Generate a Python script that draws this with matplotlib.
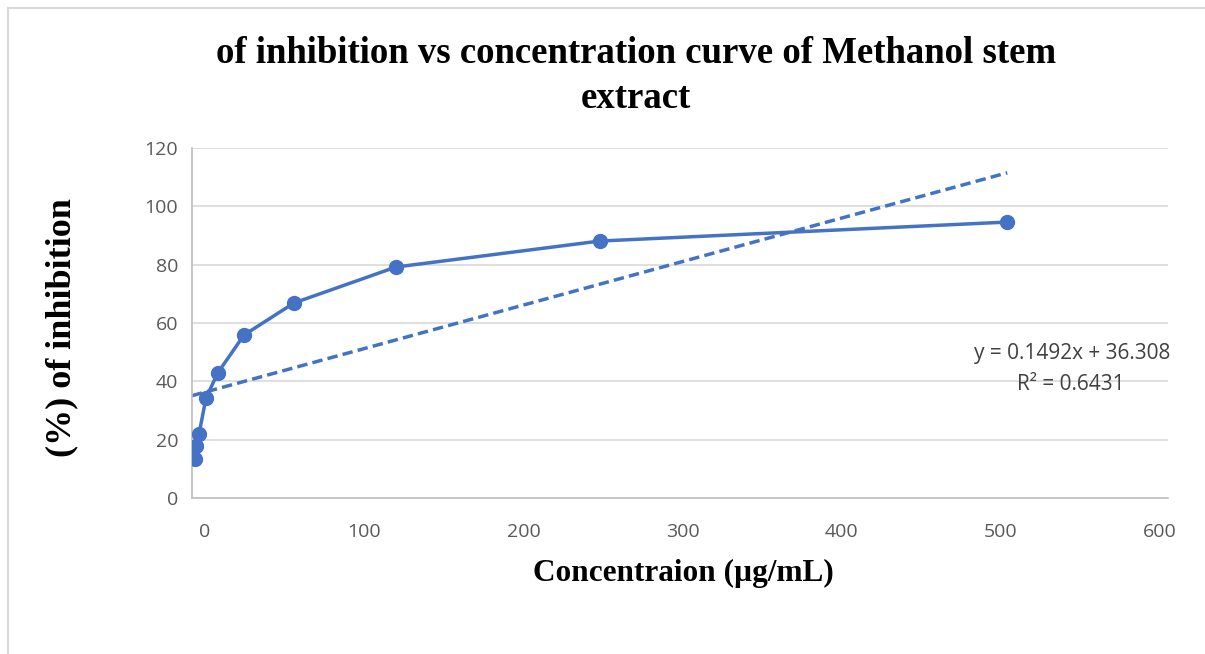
import matplotlib
matplotlib.use("Agg")
import matplotlib.pyplot as plt
from matplotlib.patches import Rectangle
import numpy as np

# Data
concentration = [-6.3, -5.7, -3.8, 0.6, 8.0, 24.5, 56.0, 120.0, 248.0, 504.0]
inhibition = [13.4, 17.8, 21.9, 34.3, 42.9, 55.9, 66.9, 79.2, 88.1, 94.6]
slope = 0.1492
intercept = 36.308
r_squared = 0.6431
x_ticks = [0, 100, 200, 300, 400, 500, 600]
y_ticks = [0, 20, 40, 60, 80, 100, 120]

title = "of inhibition vs concentration curve of Methanol stem\nextract"
x_label = "Concentraion (µg/mL)"
y_label = "(%) of inhibition"

W, H = 1205, 654
fig = plt.figure(figsize=(W / 100, H / 100), dpi=100)
fig.patch.set_facecolor("white")
fig.patches.append(Rectangle((8 / W, -0.1), 1.1, 1 - 8 / H + 0.1, transform=fig.transFigure,
                             fill=False, edgecolor="#d9d9d9", linewidth=1.5))

ax = fig.add_axes([192 / W, 1 - 498 / H, (1168 - 192) / W, (498 - 148) / H])
blue = "#4472C4"
ax.plot(concentration, inhibition, color=blue, linewidth=2.5, marker="o", markersize=10,
        zorder=3)
xt = np.array([min(concentration) - 2, max(concentration)])
ax.plot(xt, slope * xt + intercept, color=blue, linewidth=2.5, linestyle=(0, (3, 1.5)),
        zorder=2)

ax.set_xlim(-8.2, 605)
ax.set_ylim(0, 120)
ax.set_xticks(x_ticks)
ax.set_yticks(y_ticks)
ax.grid(axis="y", color="#d9d9d9", linewidth=1.2)
ax.set_axisbelow(True)
for s in ["top", "right"]:
    ax.spines[s].set_visible(False)
for s in ["left", "bottom"]:
    ax.spines[s].set_color("#bfbfbf")
    ax.spines[s].set_linewidth(1.2)
ax.tick_params(length=0, labelsize=14, labelcolor="#595959", pad=10)
for lab in ax.get_xticklabels() + ax.get_yticklabels():
    lab.set_fontfamily("Open Sans")
ax.tick_params(axis="x", pad=18)

fig.text(636 / W, 1 - 76 / H, title, ha="center", va="center", fontsize=26.5,
         fontweight="bold", family="Liberation Serif", linespacing=1.35)
fig.text(683 / W, 1 - 573 / H, x_label, ha="center", va="center", fontsize=22.5,
         fontweight="bold", family="Liberation Serif")
fig.text(62 / W, 1 - 328 / H, y_label, ha="center", va="center", fontsize=26,
         fontweight="bold", family="Liberation Serif", rotation=90)

fig.text(1170 / W, 1 - 353 / H, f"y = {slope}x + {intercept}", ha="right", va="center",
         fontsize=15, color="#404040", family="Open Sans")
fig.text(1125 / W, 1 - 384 / H, f"R² = {r_squared}", ha="right", va="center",
         fontsize=15, color="#404040", family="Open Sans")

fig.savefig("out.png", dpi=100)
